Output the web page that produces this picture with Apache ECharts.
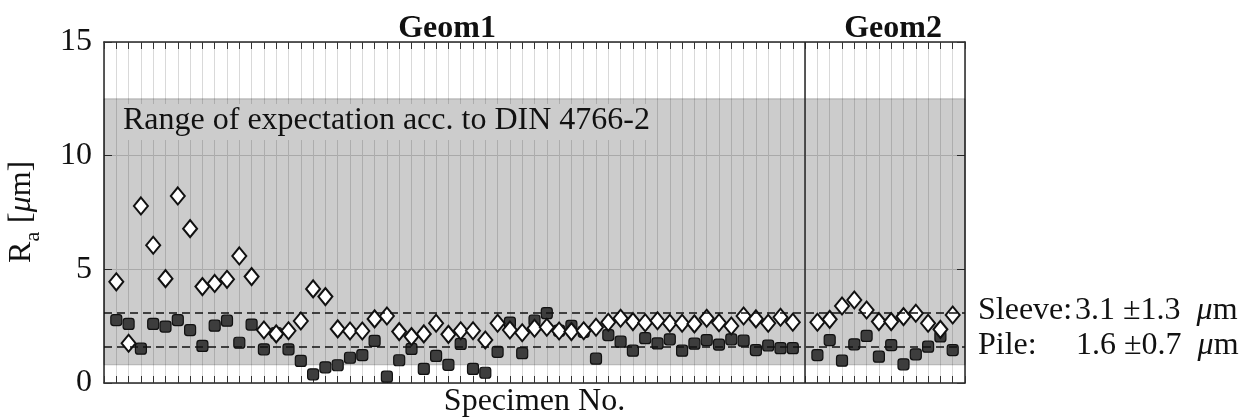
<!DOCTYPE html>
<html>
<head>
<meta charset="utf-8">
<script src="https://cdn.jsdelivr.net/npm/echarts@6/dist/echarts.min.js"></script>
<style>
html,body{margin:0;padding:0;background:#fff;}
#c{width:1253px;height:418px;}
</style>
</head>
<body>
<div id="c"></div>
<script>
// ---- data (R_a in µm) ----
const geom1Sleeve = [4.45,1.75,7.79,6.06,4.59,8.23,6.79,4.24,4.38,4.56,5.59,4.68,
  2.33,2.16,2.30,2.73,4.14,3.80,2.38,2.29,2.29,2.82,2.95,2.26,
  2.04,2.16,2.63,2.14,2.30,2.30,1.89,2.63,2.33,2.21,2.41,2.45,
  2.29,2.26,2.30,2.45,2.67,2.85,2.70,2.65,2.74,2.63,2.63,2.60,
  2.85,2.65,2.51,2.95,2.82,2.63,2.89,2.67];
const geom1Pile = [2.77,2.60,1.51,2.60,2.48,2.77,2.33,1.63,2.52,2.74,1.77,2.57,
  1.48,2.20,1.48,0.97,0.38,0.69,0.78,1.11,1.23,1.85,0.28,1.00,
  1.50,0.62,1.19,0.80,1.72,0.62,0.45,1.37,2.66,1.31,2.75,3.07,
  2.30,2.51,2.25,1.07,2.11,1.82,1.42,1.97,1.74,1.92,1.42,1.73,
  1.89,1.69,1.92,1.86,1.45,1.65,1.53,1.53];
const geom2Sleeve = [2.67,2.80,3.39,3.65,3.21,2.70,2.70,2.92,3.07,2.63,2.36,2.99];
const geom2Pile = [1.23,1.89,0.98,1.70,2.07,1.16,1.67,0.82,1.26,1.60,2.05,1.45];

const geom1FirstSpecimen = 1;
const geom2FirstSpecimen = 58;
const geomDivider = 57;
const specimenAxis = [0, 70];
const yTicks = [0, 5, 10, 15];
const expectationRange = [0.8, 12.5];
const sleeveMean = 3.1, sleeveStd = 1.3;
const pileMean = 1.6, pileStd = 0.7;

function toPoints(vals, first) { return vals.map((v, i) => [first + i, v]); }
const sleeveData = toPoints(geom1Sleeve, geom1FirstSpecimen).concat(toPoints(geom2Sleeve, geom2FirstSpecimen));
const pileData = toPoints(geom1Pile, geom1FirstSpecimen).concat(toPoints(geom2Pile, geom2FirstSpecimen));

const FONT = 'Liberation Serif';
const INK = '#111';
const FS = 32;

const chart = echarts.init(document.getElementById('c'), null, { renderer: 'canvas' });

const xBase = {
  type: 'value', min: specimenAxis[0], max: specimenAxis[1], interval: 1,
  axisLabel: { show: false },
  axisLine: { show: true, onZero: false, lineStyle: { color: '#262626', width: 1.5 } },
  axisTick: { show: true, inside: true, length: 7, lineStyle: { color: '#333', width: 1 } }
};
const yBase = {
  type: 'value', min: yTicks[0], max: yTicks[yTicks.length - 1], interval: yTicks[1] - yTicks[0],
  axisLine: { show: true, onZero: false, lineStyle: { color: '#262626', width: 1.5 } },
  axisTick: { show: true, inside: true, length: 8, lineStyle: { color: '#333', width: 1 } }
};

const muRich = { i: { fontFamily: FONT, fontSize: FS, fontStyle: 'italic', fill: INK } };

chart.setOption({
  animation: false,
  backgroundColor: '#fff',
  grid: { left: 104, right: 288, top: 42, bottom: 35 },
  xAxis: [
    Object.assign({}, xBase, { position: 'bottom',
      splitLine: { show: true, lineStyle: { color: '#d9d9d9', width: 1 } } }),
    Object.assign({}, xBase, { position: 'top', splitLine: { show: false } })
  ],
  yAxis: [
    Object.assign({}, yBase, { position: 'left',
      axisLabel: { show: true, fontFamily: FONT, fontSize: FS, color: INK, margin: 12 },
      splitLine: { show: true, lineStyle: { color: '#d4d4d4', width: 1 } } }),
    Object.assign({}, yBase, { position: 'right', axisLabel: { show: false }, splitLine: { show: false } })
  ],
  series: [
    {
      type: 'scatter', data: [], z: 1, silent: true,
      markArea: {
        silent: true,
        itemStyle: { color: 'rgba(0,0,0,0.2)', borderColor: 'rgba(0,0,0,0.22)', borderWidth: 1 },
        label: { show: false },
        data: [[{ yAxis: expectationRange[0] }, { yAxis: expectationRange[1] }]]
      }
    },
    {
      name: 'Pile', type: 'scatter', data: pileData, z: 3,
      symbol: 'roundRect', symbolSize: 11,
      itemStyle: { color: '#3d3d3d', borderColor: '#111', borderWidth: 1.2, opacity: 1 }
    },
    {
      name: 'Sleeve', type: 'scatter', data: sleeveData, z: 4,
      symbol: 'diamond', symbolSize: [14, 17],
      itemStyle: { color: '#fff', borderColor: '#111', borderWidth: 2, opacity: 1 }
    },
    {
      type: 'scatter', data: [], z: 5, silent: true,
      markLine: {
        silent: true, symbol: ['none', 'none'], label: { show: false },
        lineStyle: { color: '#111', type: [8, 5], width: 1.5 },
        data: [
          { yAxis: sleeveMean },
          { yAxis: pileMean },
          { xAxis: geomDivider, lineStyle: { type: 'solid', color: '#262626', width: 1.5 } }
        ]
      }
    }
  ],
  graphic: [
    { type: 'rect', z: 10, silent: true, shape: { x: 118, y: 104, width: 531, height: 36 }, style: { fill: '#cccccc' } },
    { type: 'text', z: 11, x: 123, y: 121, style: { text: 'Range of expectation acc. to DIN 4766-2', fontFamily: FONT, fontSize: FS, fill: INK, align: 'left', verticalAlign: 'middle' } },
    { type: 'text', z: 11, x: 447, y: 29, style: { text: 'Geom1', fontFamily: FONT, fontSize: FS, fontWeight: 'bold', fill: INK, align: 'center', verticalAlign: 'middle' } },
    { type: 'text', z: 11, x: 893, y: 29, style: { text: 'Geom2', fontFamily: FONT, fontSize: FS, fontWeight: 'bold', fill: INK, align: 'center', verticalAlign: 'middle' } },
    { type: 'text', z: 11, x: 534.5, y: 402, style: { text: 'Specimen No.', fontFamily: FONT, fontSize: FS, fill: INK, align: 'center', verticalAlign: 'middle' } },
    { type: 'text', z: 11, x: 978, y: 311, style: { text: 'Sleeve:', fontFamily: FONT, fontSize: FS, fill: INK, align: 'left', verticalAlign: 'middle' } },
    { type: 'text', z: 11, x: 1075, y: 311, style: { text: sleeveMean.toFixed(1) + ' \u00b1' + sleeveStd.toFixed(1) + '  {i|\u03bc}m', fontFamily: FONT, fontSize: FS, fill: INK, align: 'left', verticalAlign: 'middle', rich: muRich } },
    { type: 'text', z: 11, x: 978, y: 346, style: { text: 'Pile:', fontFamily: FONT, fontSize: FS, fill: INK, align: 'left', verticalAlign: 'middle' } },
    { type: 'text', z: 11, x: 1076, y: 346, style: { text: pileMean.toFixed(1) + ' \u00b1' + pileStd.toFixed(1) + '  {i|\u03bc}m', fontFamily: FONT, fontSize: FS, fill: INK, align: 'left', verticalAlign: 'middle', rich: muRich } },
    {
      type: 'group', x: 33, y: 263, rotation: Math.PI / 2, z: 11,
      children: [
        { type: 'text', x: 0, y: -11, style: { text: 'R', fontFamily: FONT, fontSize: FS, fill: INK, align: 'left', verticalAlign: 'middle' } },
        { type: 'text', x: 21.5, y: 0, style: { text: 'a', fontFamily: FONT, fontSize: 22, fill: INK, align: 'left', verticalAlign: 'middle' } },
        { type: 'text', x: 40, y: -11, style: { text: '[{i|\u03bc}m]', fontFamily: FONT, fontSize: FS, fill: INK, align: 'left', verticalAlign: 'middle', rich: muRich } }
      ]
    }
  ]
});
</script>
</body>
</html>
